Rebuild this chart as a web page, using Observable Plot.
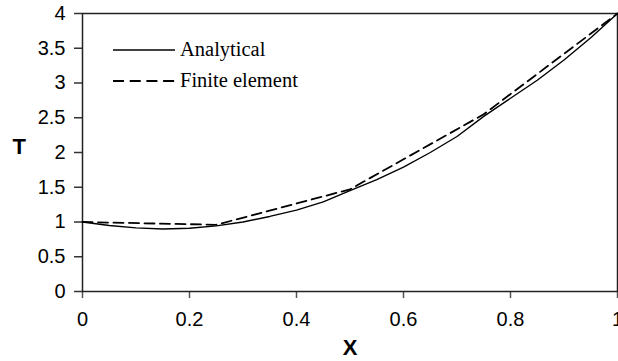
<!DOCTYPE html>
<html>
<head>
<meta charset="utf-8">
<script src="https://cdn.jsdelivr.net/npm/d3@7"></script>
<script src="https://cdn.jsdelivr.net/npm/@observablehq/plot@0.6"></script>
<style>
  html, body { margin: 0; padding: 0; background: #fff; }
  #chart { position: relative; width: 618px; height: 361px; }
  #legend { position: absolute; left: 113px; top: 34px; font-family: "Liberation Serif", "Times New Roman", serif; font-size: 20.5px; color: #000; }
  #legend .row { display: flex; align-items: center; height: 31px; }
  #legend svg { display: block; margin-right: 5px; }
</style>
</head>
<body>
<div id="chart"><div id="legend"></div></div>
<script>
// Analytical solution
const xAnalytical = [0, 0.05, 0.1, 0.15, 0.2, 0.25, 0.3, 0.35, 0.4, 0.45, 0.5, 0.55, 0.6, 0.65, 0.7, 0.75, 0.8, 0.85, 0.9, 0.95, 1.0];
const tAnalytical = [1.00, 0.95, 0.915, 0.90, 0.91, 0.945, 1.00, 1.08, 1.17, 1.29, 1.45, 1.61, 1.79, 2.00, 2.23, 2.52, 2.78, 3.04, 3.33, 3.65, 4.00];
// Finite element nodes
const xFE = [0, 0.25, 0.5, 0.75, 1.0];
const tFE = [1.00, 0.96, 1.47, 2.55, 4.00];
// Ticks
const xTicks = [0, 0.2, 0.4, 0.6, 0.8, 1];
const xTickLabels = ["0", "0.2", "0.4", "0.6", "0.8", "1"];
const yTicks = [0, 0.5, 1, 1.5, 2, 2.5, 3, 3.5, 4];
const yTickLabels = ["0", "0.5", "1", "1.5", "2", "2.5", "3", "3.5", "4"];
const seriesNames = ["Analytical", "Finite element"];
const xLabel = "X";
const yLabel = "T";

const analytical = xAnalytical.map((x, i) => ({x, t: tAnalytical[i]}));
const fe = xFE.map((x, i) => ({x, t: tFE[i]}));

const chart = Plot.plot({
  width: 618,
  height: 361,
  marginLeft: 82,
  marginRight: 1,
  marginTop: 13,
  marginBottom: 70,
  style: {fontFamily: "'Liberation Sans', Arial, sans-serif", fontSize: "20px", color: "#000", background: "#fff", overflow: "visible"},
  x: {domain: [0, 1]},
  y: {domain: [0, 4]},
  marks: [
    Plot.axisY({ticks: yTicks, tickFormat: d => yTickLabels[yTicks.indexOf(d)], tickSize: 8, tickPadding: 9, label: null, stroke: "#333", strokeWidth: 1.5}),
    Plot.axisX({ticks: xTicks, tickFormat: d => xTickLabels[xTicks.indexOf(d)], tickSize: 7, tickPadding: 13, label: null, stroke: "#555", strokeWidth: 1.5}),
    Plot.frame({stroke: "#222", strokeWidth: 1.5}),
    Plot.line(analytical, {x: "x", y: "t", stroke: "#000", strokeWidth: 1.4}),
    Plot.line(fe, {x: "x", y: "t", stroke: "#000", strokeWidth: 1.8, strokeDasharray: "10,5.5"}),
    Plot.text([xLabel], {frameAnchor: "bottom", dy: 56, text: d => d, fontWeight: "bold", fontSize: 22, lineAnchor: "middle"}),
    Plot.text([yLabel], {frameAnchor: "left", dx: -70, dy: -6, text: d => d, fontWeight: "bold", fontSize: 22, lineAnchor: "middle"})
  ]
});
const container = document.getElementById("chart");
container.insertBefore(chart, container.firstChild);

// Legend
const legend = document.getElementById("legend");
const dashes = [null, "11,5.7"];
const widths = [1.4, 2];
seriesNames.forEach((name, i) => {
  const row = document.createElement("div");
  row.className = "row";
  const svg = d3.create("svg").attr("width", 62).attr("height", 10);
  svg.append("line").attr("x1", 0).attr("x2", 62).attr("y1", 5).attr("y2", 5)
    .attr("stroke", "#000").attr("stroke-width", widths[i])
    .attr("stroke-dasharray", dashes[i]);
  row.appendChild(svg.node());
  const span = document.createElement("span");
  span.textContent = name;
  row.appendChild(span);
  legend.appendChild(row);
});
</script>
</body>
</html>
